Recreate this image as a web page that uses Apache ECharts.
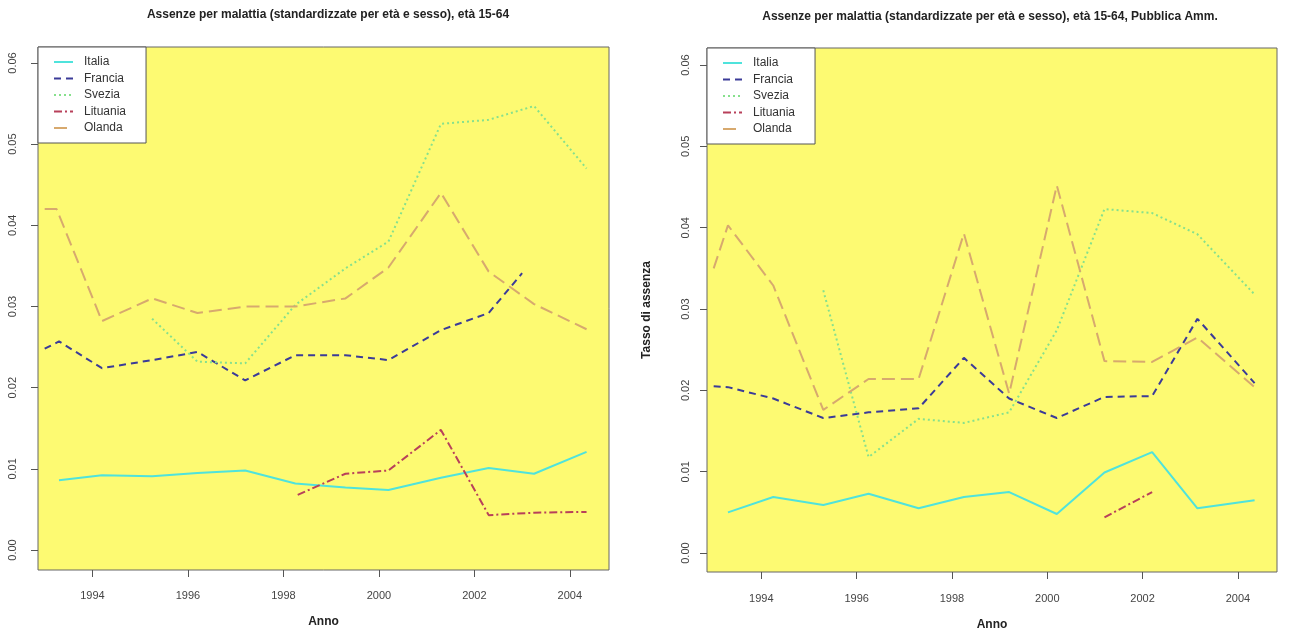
<!DOCTYPE html>
<html>
<head>
<meta charset="utf-8">
<script src="https://cdn.jsdelivr.net/npm/echarts@6/dist/echarts.min.js"></script>
<style>
html,body{margin:0;padding:0;background:#fff;}
#chart{width:1310px;height:638px;}
</style>
</head>
<body>
<div id="chart"></div>
<script>
// ---- Data ----
var seriesNames = ['Italia', 'Francia', 'Svezia', 'Lituania', 'Olanda'];
var xTickLabels = [1994, 1996, 1998, 2000, 2002, 2004];
var yTickLabels = [0.00, 0.01, 0.02, 0.03, 0.04, 0.05, 0.06];

// Left panel: all sectors
var leftItaliaX   = [1993.3, 1994.2, 1995.25, 1996.2, 1997.2, 1998.25, 1999.3, 2000.2, 2001.3, 2002.3, 2003.25, 2004.35];
var leftItaliaY   = [0.0086, 0.0092, 0.0091, 0.0095, 0.0098, 0.0082, 0.0077, 0.0074, 0.0089, 0.0101, 0.0094, 0.0121];
var leftFranciaX  = [1993.0, 1993.3, 1994.2, 1995.25, 1996.2, 1997.2, 1998.25, 1999.3, 2000.2, 2001.3, 2002.3, 2003.0];
var leftFranciaY  = [0.0248, 0.0257, 0.0224, 0.0234, 0.0244, 0.0209, 0.0240, 0.0240, 0.0234, 0.0271, 0.0292, 0.0341];
var leftSveziaX   = [1995.25, 1996.2, 1997.2, 1998.25, 1999.3, 2000.2, 2001.3, 2002.3, 2003.25, 2004.35];
var leftSveziaY   = [0.0285, 0.0232, 0.0230, 0.0302, 0.0347, 0.0380, 0.0525, 0.0530, 0.0547, 0.0470];
var leftLituaniaX = [1998.3, 1999.3, 2000.2, 2001.3, 2002.3, 2003.25, 2004.35];
var leftLituaniaY = [0.0068, 0.0094, 0.0098, 0.0148, 0.0043, 0.0046, 0.0047];
var leftOlandaX   = [1993.0, 1993.25, 1994.2, 1995.25, 1996.2, 1997.2, 1998.25, 1999.3, 2000.2, 2001.3, 2002.3, 2003.25, 2004.35];
var leftOlandaY   = [0.0420, 0.0420, 0.0282, 0.0310, 0.0292, 0.0300, 0.0300, 0.0310, 0.0348, 0.0440, 0.0343, 0.0303, 0.0272];

// Right panel: public administration
var rightItaliaX   = [1993.3, 1994.25, 1995.3, 1996.25, 1997.3, 1998.25, 1999.2, 2000.2, 2001.2, 2002.2, 2003.15, 2004.35];
var rightItaliaY   = [0.0050, 0.0069, 0.0059, 0.0073, 0.0055, 0.0069, 0.0075, 0.0048, 0.0099, 0.0124, 0.0055, 0.0065];
var rightFranciaX  = [1993.0, 1993.3, 1994.25, 1995.3, 1996.25, 1997.3, 1998.25, 1999.2, 2000.2, 2001.2, 2002.2, 2003.15, 2004.35];
var rightFranciaY  = [0.0205, 0.0204, 0.0190, 0.0166, 0.0173, 0.0178, 0.0240, 0.0190, 0.0166, 0.0192, 0.0193, 0.0288, 0.0209];
var rightSveziaX   = [1995.3, 1996.25, 1997.3, 1998.25, 1999.2, 2000.2, 2001.2, 2002.2, 2003.15, 2004.35];
var rightSveziaY   = [0.0323, 0.0118, 0.0165, 0.0160, 0.0173, 0.0274, 0.0423, 0.0418, 0.0392, 0.0318];
var rightLituaniaX = [2001.2, 2002.2];
var rightLituaniaY = [0.0044, 0.0075];
var rightOlandaX   = [1993.0, 1993.3, 1994.25, 1995.3, 1996.25, 1997.3, 1998.25, 1999.2, 2000.2, 2001.2, 2002.2, 2003.15, 2004.35];
var rightOlandaY   = [0.0350, 0.0403, 0.0329, 0.0176, 0.0214, 0.0214, 0.0393, 0.0196, 0.0452, 0.0236, 0.0235, 0.0265, 0.0204];

// ---- Build ----
function pairs(xs, ys) { var o = []; for (var i = 0; i < xs.length; i++) o.push([xs[i], ys[i]]); return o; }

var styles = {
  Italia:   { color: '#4fe3dc', type: 'solid' },
  Francia:  { color: '#3b3b98', type: [7, 5] },
  Svezia:   { color: '#86e08c', type: [2, 3] },
  Lituania: { color: '#b8405a', type: [8, 3, 2, 3] },
  Olanda:   { color: '#d7a96e', type: [13, 6] }
};

var panels = [
  { xs: [leftItaliaX, leftFranciaX, leftSveziaX, leftLituaniaX, leftOlandaX],
    ys: [leftItaliaY, leftFranciaY, leftSveziaY, leftLituaniaY, leftOlandaY] },
  { xs: [rightItaliaX, rightFranciaX, rightSveziaX, rightLituaniaX, rightOlandaX],
    ys: [rightItaliaY, rightFranciaY, rightSveziaY, rightLituaniaY, rightOlandaY] }
];

var series = [];
panels.forEach(function (p, gi) {
  seriesNames.forEach(function (name, si) {
    series.push({
      name: name,
      type: 'line',
      xAxisIndex: gi,
      yAxisIndex: gi,
      data: pairs(p.xs[si], p.ys[si]),
      symbol: 'none',
      smooth: false,
      animation: false,
      color: styles[name].color,
      lineStyle: { color: styles[name].color, width: 2, type: styles[name].type }
    });
  });
});

var FONT = 'Liberation Sans, Arial, Helvetica, sans-serif';

function xAxisCfg(gi, gap, margin) {
  return {
    type: 'value', gridIndex: gi, min: 1992.86, max: 2004.82,
    name: 'Anno', nameLocation: 'middle', nameGap: gap,
    nameTextStyle: { fontFamily: FONT, fontWeight: 'bold', fontSize: 12, color: '#222' },
    axisLine: { show: false, onZero: false },
    splitLine: { show: false },
    axisTick: { show: true, inside: false, length: 7, lineStyle: { color: '#555' }, customValues: xTickLabels },
    axisLabel: { customValues: xTickLabels, margin: margin, fontFamily: FONT, fontSize: 11, color: '#444',
                 formatter: function (v) { return String(v); } }
  };
}
function yAxisCfg(gi, min, max, name, margin) {
  return {
    type: 'value', gridIndex: gi, min: min, max: max,
    name: name, nameLocation: 'middle', nameGap: 54,
    nameTextStyle: { fontFamily: FONT, fontWeight: 'bold', fontSize: 12, color: '#222' },
    axisLine: { show: false, onZero: false },
    splitLine: { show: false },
    axisTick: { show: true, length: 7, lineStyle: { color: '#555' }, customValues: yTickLabels },
    axisLabel: { customValues: yTickLabels, rotate: 90, margin: margin, fontFamily: FONT, fontSize: 11, color: '#444',
                 formatter: function (v) { return v.toFixed(2); } }
  };
}

function legendCfg(left, top) {
  return {
    show: true, orient: 'vertical', left: left, top: top,
    data: seriesNames,
    backgroundColor: '#ffffff', borderColor: '#555', borderWidth: 1,
    padding: [9, 20, 9, 15], itemGap: 4.5, itemWidth: 19, itemHeight: 14,
    itemStyle: { color: 'transparent', borderWidth: 0, opacity: 0 },
    textStyle: { fontFamily: FONT, fontSize: 12, color: '#333', padding: [0, 0, 0, 6] },
    selectedMode: false
  };
}

var option = {
  backgroundColor: '#ffffff',
  animation: false,
  title: [
    { text: 'Assenze per malattia (standardizzate per età e sesso), età 15-64', left: 323, top: 4, textAlign: 'center',
      textStyle: { fontFamily: FONT, fontWeight: 'bold', fontSize: 12, color: '#222' } },
    { text: 'Assenze per malattia (standardizzate per età e sesso), età 15-64, Pubblica Amm.', left: 985, top: 6, textAlign: 'center',
      textStyle: { fontFamily: FONT, fontWeight: 'bold', fontSize: 12, color: '#222' } }
  ],
  legend: [legendCfg(38, 47), legendCfg(707, 48)],
  grid: [
    { left: 38, top: 47, width: 571, height: 523, show: true, backgroundColor: '#fdfa72', borderColor: '#666', borderWidth: 1 },
    { left: 707, top: 48, width: 570, height: 524, show: true, backgroundColor: '#fdfa72', borderColor: '#666', borderWidth: 1 }
  ],
  xAxis: [xAxisCfg(0, 46, 20), xAxisCfg(1, 47, 21)],
  yAxis: [yAxisCfg(0, -0.00246, 0.06197, '', 20), yAxisCfg(1, -0.00233, 0.0621, 'Tasso di assenza', 16)],
  series: series
};

var chart = echarts.init(document.getElementById('chart'), null, { renderer: 'canvas' });
chart.setOption(option);
</script>
</body>
</html>
